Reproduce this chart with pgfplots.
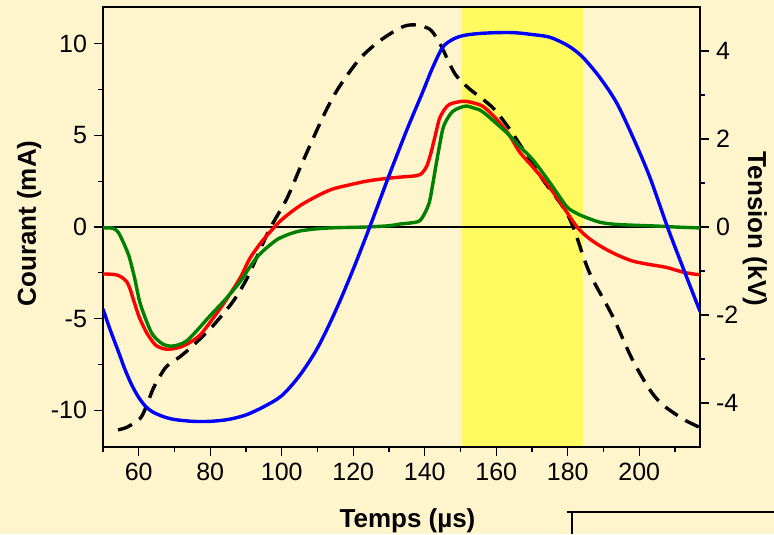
\documentclass[border=0pt]{standalone}
\usepackage{pgfplots}
\pgfplotsset{compat=1.18}
\usepackage{fontspec}
\setmainfont{Liberation Sans}
\definecolor{bgc}{RGB}{255,245,204}
\definecolor{bandc}{RGB}{255,250,95}
\definecolor{dgreen}{RGB}{0,128,0}
\pgfplotsset{mystyle/.style={scale only axis, width=298.5pt, height=220pt,
  at={(51.5pt,43.5pt)}, anchor=south west, xmin=50, xmax=217,
  axis line style={line width=0.65pt}, every tick/.style={line width=0.65pt,black},
  tick align=outside, major tick length=4.5pt, minor tick length=2.5pt,
  tick label style={font=\fontsize{12.5}{13}\selectfont},
  /pgf/number format/assume math mode=true}}
\begin{document}
\begin{tikzpicture}[x=0.5pt,y=0.5pt]
\fill[bgc] (0,0) rectangle (774,534);
\useasboundingbox (0,0) rectangle (774,534);
% tension axis (right)
\begin{axis}[mystyle, ymin=-5, ymax=5, hide x axis, axis y line*=right,
  ytick={-4,-2,0,2,4}, minor ytick={-3,-1,1,3}]
\addplot[draw=none, fill=bandc] coordinates {(150.5,-5)(184.4,-5)(184.4,5)(150.5,5)} -- cycle;
\addplot[black, line width=1.7pt, dash pattern=on 7.5pt off 4.5pt, smooth] coordinates {
(54.2,-4.61)(56.7,-4.55)(60.3,-4.36)(62,-4.1)(64,-3.68)(66,-3.38)(67.9,-3.16)(71.5,-2.95)
(75.1,-2.7)(80.7,-2.25)(86.3,-1.7)(90.2,-1.18)(93.5,-0.6)(96.6,-0.05)(101.4,0.64)(105,1.32)
(108.7,2.0)(112.6,2.68)(116.2,3.2)(121.8,3.82)(127.4,4.23)(133.8,4.55)(137.7,4.59)(141.3,4.5)
(143.3,4.3)(145,4.05)(147,3.7)(148.9,3.43)(152.5,3.14)(158.9,2.72)(163.7,2.23)(168,1.7)
(172.9,1.09)(176.5,0.7)(179.6,0.34)(182,-0.1)(184.6,-0.73)(186.9,-1.18)(192.5,-2.02)(198,-3.0)
(202.8,-3.68)(206,-4.0)(209.2,-4.2)(213,-4.4)(216.8,-4.55)};
\end{axis}
% current axis (left)
\begin{axis}[mystyle, ymin=-12, ymax=12, xtick pos=bottom, ytick pos=left,
  ytick={-10,-5,0,5,10}, minor ytick={-7.5,-2.5,2.5,7.5},
  xtick={60,80,...,200}, minor xtick={50,70,...,210}]
\addplot[black, line width=0.65pt] coordinates {(50,0)(217,0)};
\addplot[red, line width=1.7pt, smooth] coordinates {
(50,-2.56)(52.5,-2.58)(53.9,-2.62)(55.3,-2.75)(56.7,-3.0)(57.6,-3.4)(58.4,-3.9)(59.4,-4.5)
(60.3,-5.0)(62.3,-5.8)(64.5,-6.4)(66,-6.58)(67.9,-6.67)(70.7,-6.6)(73.4,-6.4)(77.1,-5.9)
(80.7,-5.0)(84,-4.1)(88.3,-2.8)(91,-1.74)(94,-0.9)(96.6,-0.3)(100,0.4)(105,1.15)(110,1.7)
(114.2,2.07)(119,2.3)(123.7,2.5)(128,2.62)(133,2.72)(137.7,2.8)(139.3,2.95)(140.5,3.3)
(141.4,3.8)(142.2,4.4)(143.2,5.2)(144.1,5.9)(145.5,6.4)(147,6.7)(150.6,6.86)(153,6.8)
(156.1,6.6)(158.5,6.2)(160.9,5.7)(163.7,5.0)(166.5,4.1)(170.1,3.3)(174,2.4)(177.7,1.4)
(182.4,0.05)(185.5,-0.55)(188.8,-1.0)(193,-1.45)(198,-1.85)(203,-2.05)(207.5,-2.2)
(212,-2.45)(215,-2.56)(217,-2.6)};
\addplot[dgreen, line width=1.7pt, smooth] coordinates {
(50,-0.05)(52.8,-0.07)(54.3,-0.3)(55.6,-0.8)(56.6,-1.25)(57.5,-1.74)(58.9,-2.83)(60.3,-4.1)
(62.3,-5.2)(64,-5.9)(66.8,-6.4)(69.3,-6.5)(71.5,-6.4)(73.5,-6.2)(76.5,-5.6)(79.9,-4.85)
(84,-4.0)(88.3,-3.0)(91,-2.2)(93.5,-1.55)(96.6,-1.0)(99,-0.65)(102.2,-0.38)(105,-0.22)
(109.7,-0.1)(115,-0.04)(123.7,0)(130,0.07)(133,0.16)(136,0.22)(138.5,0.33)(140,0.75)
(141.3,1.36)(142.3,2.4)(143.3,3.54)(145,5.3)(146.3,5.9)(147.8,6.3)(149.7,6.5)(151.7,6.6)
(153.5,6.5)(156.1,6.3)(160.9,5.5)(163.7,5.0)(166.5,4.4)(170.1,3.7)(174.9,2.45)(179.6,1.14)
(182,0.8)(184.1,0.6)(188.8,0.27)(193,0.15)(198,0.1)(205,0.05)(210,0)(217,-0.05)};
\addplot[blue, line width=1.7pt, smooth] coordinates {
(50,-4.47)(52,-5.6)(54.7,-7.0)(56,-7.7)(58,-8.6)(60,-9.3)(62,-9.8)(64,-10.1)(67,-10.35)
(70,-10.5)(75,-10.6)(80,-10.6)(85,-10.5)(90,-10.25)(95,-9.8)(100,-9.2)(105,-8.1)(110,-6.6)
(115,-4.6)(120,-2.3)(125,0.2)(130,2.8)(135,5.3)(139.4,7.35)(142,8.6)(145,9.8)(148,10.25)
(151,10.45)(155,10.55)(160,10.6)(165,10.6)(170,10.5)(175,10.35)(180,9.9)(184,9.3)
(188.8,8.2)(193.6,6.8)(198,5.0)(202.8,2.8)(207.8,0.05)(212,-2.1)(217,-4.6)};
\end{axis}
\node[rotate=90, anchor=base, font=\fontsize{13}{14}\selectfont\bfseries] at (36,310.5) {Courant (mA)};
\node[rotate=-90, anchor=base, font=\fontsize{13}{14}\selectfont\bfseries] at (748,305) {Tension (kV)};
\node[anchor=base, font=\fontsize{13}{14}\selectfont\bfseries] at (407.5,7) {Temps (µs)};
\draw[line width=0.65pt] (567,22) -- (774,22);
\draw[line width=0.65pt] (572,22) -- (572,0);
\end{tikzpicture}
\end{document}
